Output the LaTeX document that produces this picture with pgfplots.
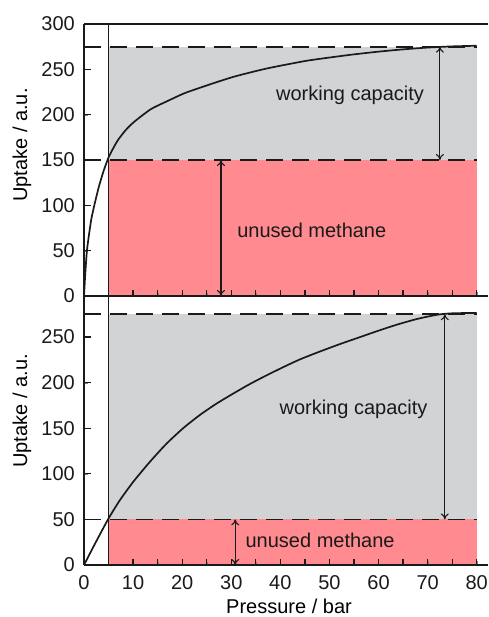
\documentclass[border=0pt]{standalone}
\usepackage{fontspec}
\setmainfont{Liberation Sans}
\usepackage{pgfplots}
\usepackage{pgfplotstable}
\pgfplotsset{compat=1.18}
\usetikzlibrary{arrows.meta}

\definecolor{capgray}{HTML}{D1D3D4}
\definecolor{unusedred}{HTML}{FF8A8F}
\definecolor{ink}{HTML}{1A1A1A}

% inward tick marks as short segments, nan rows break the line
\pgfplotstableread{
x y
5 0
5 7
nan nan
10 0
10 7
nan nan
15 0
15 7
nan nan
20 0
20 7
nan nan
25 0
25 7
nan nan
30 0
30 7
nan nan
35 0
35 7
nan nan
40 0
40 7
nan nan
45 0
45 7
nan nan
50 0
50 7
nan nan
55 0
55 7
nan nan
60 0
60 7
nan nan
65 0
65 7
nan nan
70 0
70 7
nan nan
75 0
75 7
nan nan
80 0
80 7
}\xticksegs

\pgfplotstableread{
x y
0 50
1.4 50
nan nan
0 100
1.4 100
nan nan
0 150
1.4 150
nan nan
0 200
1.4 200
nan nan
0 250
1.4 250
}\yticksegs

\pgfplotsset{
  panel/.style={
    set layers, scale only axis, width=404pt,
    xmin=0, xmax=82.3, ymin=0,
    xtick={0,10,...,80}, minor xtick={5,15,...,75},
    axis line style={line width=1.6pt, draw=ink},
    every tick label/.append style={inner sep=0pt, text=ink},
    yticklabel style={xshift=-9pt},
    xticklabel style={yshift=-10pt},
    /pgf/number format/assume math mode=true,
    clip=false,
  },
  zone/.style={draw=none, on layer=axis background},
  guide/.style={line width=1.8pt, ink, dash pattern=on 17pt off 9pt},
  curve/.style={line width=1.7pt, ink},
  tickline/.style={line width=1.3pt, ink, no markers, unbounded coords=jump},
  span/.style={line width=1.1pt, ink, {To[length=6pt,width=8pt]}-{To[length=6pt,width=8pt]}},
}

\begin{document}
\begin{tikzpicture}[font=\fontsize{20}{24}\selectfont]
% page frame, 488 x 617
\path (-84pt,-52pt) rectangle (404pt,565pt);

% lower panel
\begin{axis}[panel, at={(0,0)}, height=269pt, ymax=295,
    axis x line*=bottom, axis y line*=left,
    ytick={0,50,...,250},
    xlabel={Pressure / bar},
    xlabel style={at={(axis description cs:0.5,0)}, anchor=north, inner sep=0pt, yshift=-34pt, xshift=3pt},
    ylabel={Uptake / a.u.},
    ylabel style={at={(axis description cs:-0.1535,0.5725)}, anchor=center, inner sep=0pt}]
  \addplot[zone, fill=capgray] coordinates {(5,50) (80,50) (80,275) (5,275)} -- cycle;
  \addplot[zone, fill=unusedred] coordinates {(5,0) (80,0) (80,50) (5,50)} -- cycle;
  \addplot[tickline] table {\xticksegs};
  \addplot[tickline] table {\yticksegs};
  \addplot[guide] coordinates {(0,275) (80,275)};
  \addplot[guide] coordinates {(0,50) (80,50)};
  \addplot[line width=1.5pt, ink] coordinates {(5,0) (5,295)};
  \addplot[curve, smooth, tension=0.4] coordinates {
    (0,0) (2.5,26) (5,51) (7.3,71) (10,91) (13.4,113) (16.8,133) (20.2,150)
    (23.6,164.5) (27,177) (30.4,188) (33.8,198.5) (37.2,208) (40.6,217)
    (44,225.5) (48,234) (52,242) (56,249.5) (60,257) (64,264) (68,270)
    (72,274.5) (75,276) (80,276.5)
  };
  \addplot[span] coordinates {(73.5,50) (73.5,275)};
  \addplot[span] coordinates {(30.8,0) (30.8,50)};
  \node[ink] at (axis cs:54.9,171) {working capacity};
  \node[ink] at (axis cs:48.1,27.4) {unused methane};
\end{axis}

% upper panel
\begin{axis}[panel, at={(0,269pt)}, height=272pt, ymax=300,
    axis x line*=box, axis y line*=left, xtick pos=left,
    ytick={0,50,...,300}, xticklabels={},
    ylabel={Uptake / a.u.},
    ylabel style={at={(axis description cs:-0.1535,0.555)}, anchor=center, inner sep=0pt}]
  \addplot[zone, fill=capgray] coordinates {(5,150) (80,150) (80,275) (5,275)} -- cycle;
  \addplot[zone, fill=unusedred] coordinates {(5,0) (80,0) (80,150) (5,150)} -- cycle;
  \addplot[tickline] table {\xticksegs};
  \addplot[tickline] table {\yticksegs};
  \addplot[guide] coordinates {(0,275) (80,275)};
  \addplot[guide] coordinates {(0,150) (80,150)};
  \addplot[line width=1.5pt, ink] coordinates {(5,0) (5,300)};
  \addplot[curve, smooth, tension=0.4] coordinates {
    (0,0) (0.3,28) (0.6,50) (1,67) (1.5,85) (2.1,100) (3,120) (4,138)
    (5.1,154) (6.8,171) (8.5,183) (10.2,192) (13.6,206) (17,215)
    (20.4,223.5) (23.8,230) (27.1,236) (30.5,241.8) (33.9,246.6)
    (37.3,251) (40.7,254.7) (45.4,259.5) (50,263) (55,266.5) (60,269.5)
    (65,272) (70,274) (75,275.3) (80,276)
  };
  \addplot[span] coordinates {(72.5,150) (72.5,275)};
  \addplot[span] coordinates {(27.9,0) (27.9,150)};
  \node[ink] at (axis cs:54.2,221.6) {working capacity};
  \node[ink] at (axis cs:46.4,72.8) {unused methane};
\end{axis}
\end{tikzpicture}
\end{document}
